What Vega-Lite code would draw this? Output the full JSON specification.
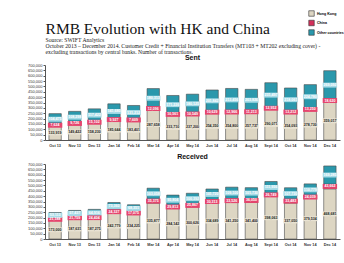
{
  "$schema": "https://vega.github.io/schema/vega-lite/v6.json",
  "background": "white",
  "padding": {"left": 27, "top": 10, "right": 4, "bottom": 2},
  "title": {
    "text": "RMB Evolution with HK and China",
    "subtitle": ["Source: SWIFT Analytics", "October 2013 – December 2014. Customer Credit + Financial Institution Transfers (MT103 + MT202 excluding cover) -", "excluding transactions by central banks. Number of transactions."],
    "anchor": "start",
    "font": "Liberation Serif",
    "fontSize": 15.5,
    "fontWeight": "normal",
    "color": "#111",
    "subtitleFont": "Liberation Serif",
    "subtitleFontSize": 5.7,
    "subtitleColor": "#222",
    "subtitleLineHeight": 6,
    "subtitlePadding": 0,
    "dx": 18,
    "offset": -45
  },
  "datasets": {
    "rmb": [
      {"month": "Oct 13", "flow": "Sent", "region": "Hong Kong", "order": 0, "value": 133919},
      {"month": "Nov 13", "flow": "Sent", "region": "Hong Kong", "order": 0, "value": 149422},
      {"month": "Dec 13", "flow": "Sent", "region": "Hong Kong", "order": 0, "value": 158230},
      {"month": "Jan 14", "flow": "Sent", "region": "Hong Kong", "order": 0, "value": 185644},
      {"month": "Feb 14", "flow": "Sent", "region": "Hong Kong", "order": 0, "value": 183401},
      {"month": "Mar 14", "flow": "Sent", "region": "Hong Kong", "order": 0, "value": 287658},
      {"month": "Apr 14", "flow": "Sent", "region": "Hong Kong", "order": 0, "value": 233710},
      {"month": "May 14", "flow": "Sent", "region": "Hong Kong", "order": 0, "value": 237200},
      {"month": "Jun 14", "flow": "Sent", "region": "Hong Kong", "order": 0, "value": 254350},
      {"month": "Jul 14", "flow": "Sent", "region": "Hong Kong", "order": 0, "value": 254800},
      {"month": "Aug 14", "flow": "Sent", "region": "Hong Kong", "order": 0, "value": 257737},
      {"month": "Sept 14", "flow": "Sent", "region": "Hong Kong", "order": 0, "value": 290071},
      {"month": "Oct 14", "flow": "Sent", "region": "Hong Kong", "order": 0, "value": 254093},
      {"month": "Nov 14", "flow": "Sent", "region": "Hong Kong", "order": 0, "value": 278730},
      {"month": "Dec 14", "flow": "Sent", "region": "Hong Kong", "order": 0, "value": 359017},
      {"month": "Oct 13", "flow": "Sent", "region": "China", "order": 1, "value": 7624},
      {"month": "Nov 13", "flow": "Sent", "region": "China", "order": 1, "value": 9726},
      {"month": "Dec 13", "flow": "Sent", "region": "China", "order": 1, "value": 15102},
      {"month": "Jan 14", "flow": "Sent", "region": "China", "order": 1, "value": 9927},
      {"month": "Feb 14", "flow": "Sent", "region": "China", "order": 1, "value": 7609},
      {"month": "Mar 14", "flow": "Sent", "region": "China", "order": 1, "value": 12096},
      {"month": "Apr 14", "flow": "Sent", "region": "China", "order": 1, "value": 10561},
      {"month": "May 14", "flow": "Sent", "region": "China", "order": 1, "value": 10549},
      {"month": "Jun 14", "flow": "Sent", "region": "China", "order": 1, "value": 10629},
      {"month": "Jul 14", "flow": "Sent", "region": "China", "order": 1, "value": 12966},
      {"month": "Aug 14", "flow": "Sent", "region": "China", "order": 1, "value": 11213},
      {"month": "Sept 14", "flow": "Sent", "region": "China", "order": 1, "value": 12952},
      {"month": "Oct 14", "flow": "Sent", "region": "China", "order": 1, "value": 13212},
      {"month": "Nov 14", "flow": "Sent", "region": "China", "order": 1, "value": 13250},
      {"month": "Dec 14", "flow": "Sent", "region": "China", "order": 1, "value": 18620},
      {"month": "Oct 13", "flow": "Sent", "region": "Other countries", "order": 2, "value": 104475},
      {"month": "Nov 13", "flow": "Sent", "region": "Other countries", "order": 2, "value": 108298},
      {"month": "Dec 13", "flow": "Sent", "region": "Other countries", "order": 2, "value": 117422},
      {"month": "Jan 14", "flow": "Sent", "region": "Other countries", "order": 2, "value": 141680},
      {"month": "Feb 14", "flow": "Sent", "region": "Other countries", "order": 2, "value": 131212},
      {"month": "Mar 14", "flow": "Sent", "region": "Other countries", "order": 2, "value": 180313},
      {"month": "Apr 14", "flow": "Sent", "region": "Other countries", "order": 2, "value": 171226},
      {"month": "May 14", "flow": "Sent", "region": "Other countries", "order": 2, "value": 180125},
      {"month": "Jun 14", "flow": "Sent", "region": "Other countries", "order": 2, "value": 201842},
      {"month": "Jul 14", "flow": "Sent", "region": "Other countries", "order": 2, "value": 213456},
      {"month": "Aug 14", "flow": "Sent", "region": "Other countries", "order": 2, "value": 203826},
      {"month": "Sept 14", "flow": "Sent", "region": "Other countries", "order": 2, "value": 231497},
      {"month": "Oct 14", "flow": "Sent", "region": "Other countries", "order": 2, "value": 218061},
      {"month": "Nov 14", "flow": "Sent", "region": "Other countries", "order": 2, "value": 224780},
      {"month": "Dec 14", "flow": "Sent", "region": "Other countries", "order": 2, "value": 269092},
      {"month": "Oct 13", "flow": "Received", "region": "Hong Kong", "order": 0, "value": 173000},
      {"month": "Nov 13", "flow": "Received", "region": "Hong Kong", "order": 0, "value": 187631},
      {"month": "Dec 13", "flow": "Received", "region": "Hong Kong", "order": 0, "value": 187275},
      {"month": "Jan 14", "flow": "Received", "region": "Hong Kong", "order": 0, "value": 242779},
      {"month": "Feb 14", "flow": "Received", "region": "Hong Kong", "order": 0, "value": 234225},
      {"month": "Mar 14", "flow": "Received", "region": "Hong Kong", "order": 0, "value": 335877},
      {"month": "Apr 14", "flow": "Received", "region": "Hong Kong", "order": 0, "value": 284142},
      {"month": "May 14", "flow": "Received", "region": "Hong Kong", "order": 0, "value": 300626},
      {"month": "Jun 14", "flow": "Received", "region": "Hong Kong", "order": 0, "value": 334689},
      {"month": "Jul 14", "flow": "Received", "region": "Hong Kong", "order": 0, "value": 341250},
      {"month": "Aug 14", "flow": "Received", "region": "Hong Kong", "order": 0, "value": 341400},
      {"month": "Sept 14", "flow": "Received", "region": "Hong Kong", "order": 0, "value": 398063},
      {"month": "Oct 14", "flow": "Received", "region": "Hong Kong", "order": 0, "value": 337050},
      {"month": "Nov 14", "flow": "Received", "region": "Hong Kong", "order": 0, "value": 379534},
      {"month": "Dec 14", "flow": "Received", "region": "Hong Kong", "order": 0, "value": 468681},
      {"month": "Oct 13", "flow": "Received", "region": "China", "order": 1, "value": 21188},
      {"month": "Nov 13", "flow": "Received", "region": "China", "order": 1, "value": 21759},
      {"month": "Dec 13", "flow": "Received", "region": "China", "order": 1, "value": 24404},
      {"month": "Jan 14", "flow": "Received", "region": "China", "order": 1, "value": 24327},
      {"month": "Feb 14", "flow": "Received", "region": "China", "order": 1, "value": 17075},
      {"month": "Mar 14", "flow": "Received", "region": "China", "order": 1, "value": 35375},
      {"month": "Apr 14", "flow": "Received", "region": "China", "order": 1, "value": 29813},
      {"month": "May 14", "flow": "Received", "region": "China", "order": 1, "value": 25867},
      {"month": "Jun 14", "flow": "Received", "region": "China", "order": 1, "value": 30313},
      {"month": "Jul 14", "flow": "Received", "region": "China", "order": 1, "value": 33526},
      {"month": "Aug 14", "flow": "Received", "region": "China", "order": 1, "value": 36050},
      {"month": "Sept 14", "flow": "Received", "region": "China", "order": 1, "value": 26749},
      {"month": "Oct 14", "flow": "Received", "region": "China", "order": 1, "value": 33483},
      {"month": "Nov 14", "flow": "Received", "region": "China", "order": 1, "value": 24039},
      {"month": "Dec 14", "flow": "Received", "region": "China", "order": 1, "value": 43662},
      {"month": "Oct 13", "flow": "Received", "region": "Other countries", "order": 2, "value": 53113},
      {"month": "Nov 13", "flow": "Received", "region": "Other countries", "order": 2, "value": 57437},
      {"month": "Dec 13", "flow": "Received", "region": "Other countries", "order": 2, "value": 64916},
      {"month": "Jan 14", "flow": "Received", "region": "Other countries", "order": 2, "value": 73360},
      {"month": "Feb 14", "flow": "Received", "region": "Other countries", "order": 2, "value": 68351},
      {"month": "Mar 14", "flow": "Received", "region": "Other countries", "order": 2, "value": 103058},
      {"month": "Apr 14", "flow": "Received", "region": "Other countries", "order": 2, "value": 95804},
      {"month": "May 14", "flow": "Received", "region": "Other countries", "order": 2, "value": 100392},
      {"month": "Jun 14", "flow": "Received", "region": "Other countries", "order": 2, "value": 101720},
      {"month": "Jul 14", "flow": "Received", "region": "Other countries", "order": 2, "value": 109100},
      {"month": "Aug 14", "flow": "Received", "region": "Other countries", "order": 2, "value": 101730},
      {"month": "Sept 14", "flow": "Received", "region": "Other countries", "order": 2, "value": 111956},
      {"month": "Oct 14", "flow": "Received", "region": "Other countries", "order": 2, "value": 107730},
      {"month": "Nov 14", "flow": "Received", "region": "Other countries", "order": 2, "value": 110779},
      {"month": "Dec 14", "flow": "Received", "region": "Other countries", "order": 2, "value": 169285}
    ]
  },
  "data": {"name": "rmb"},
  "spacing": 6,
  "vconcat": [
    {
      "width": 295, "height": 75,
      "title": {"text": "Sent"},
      "transform": [
        {"filter": "datum.flow == 'Sent'"},
        {"stack": "value", "groupby": ["month"], "sort": [{"field": "order"}], "as": ["v0", "v1"]},
        {"calculate": "(datum.v0 + datum.v1) / 2", "as": "mid"}
      ],
      "encoding": {
        "x": {"field": "month", "type": "nominal", "sort": null, "scale": {"paddingInner": 0.37, "paddingOuter": 0.2}, "axis": {"title": null}}
      },
      "layer": [
        {
          "mark": {"type": "bar", "stroke": "#4a4a4a", "strokeWidth": 0.6},
          "encoding": {
            "y": {"field": "v0", "type": "quantitative", "scale": {"domain": [0, 700000]}, "axis": {"title": null, "values": [0, 50000, 100000, 150000, 200000, 250000, 300000, 350000, 400000, 450000, 500000, 550000, 600000, 650000, 700000], "format": ",d", "labelOverlap": false, "labelFlush": false}},
            "y2": {"field": "v1"},
            "color": {"field": "region", "type": "nominal", "scale": {"domain": ["Hong Kong", "China", "Other countries"], "range": ["#ddd6c3", "#d3305a", "#2a98ac"]}, "legend": {"title": null, "orient": "none", "legendX": 263, "legendY": -55}}
          }
        },
        {
          "mark": {"type": "point", "filled": true, "opacity": 1, "strokeWidth": 0, "size": 81, "shape": "M-1.6,-0.55H1.6V0.55H-1.6Z"},
          "encoding": {
            "y": {"field": "mid", "type": "quantitative", "axis": {"title": null, "values": [0, 50000, 100000, 150000, 200000, 250000, 300000, 350000, 400000, 450000, 500000, 550000, 600000, 650000, 700000], "format": ",d", "labelOverlap": false, "labelFlush": false}},
            "fill": {"field": "region", "type": "nominal", "scale": {"domain": ["Hong Kong", "China", "Other countries"], "range": ["#e8e2d2", "#e5456e", "#a6dbe7"]}, "legend": null}
          }
        },
        {
          "transform": [{"filter": "datum.region == 'Hong Kong'"}],
          "mark": {"type": "text", "fontSize": 3.6, "fontWeight": "bold", "font": "Liberation Sans", "color": "#222"},
          "encoding": {"y": {"field": "mid", "type": "quantitative", "axis": {"title": null, "values": [0, 50000, 100000, 150000, 200000, 250000, 300000, 350000, 400000, 450000, 500000, 550000, 600000, 650000, 700000], "format": ",d", "labelOverlap": false, "labelFlush": false}}, "text": {"field": "value", "type": "quantitative", "format": ",d"}}
        },
        {
          "transform": [{"filter": "datum.region != 'Hong Kong'"}],
          "mark": {"type": "text", "fontSize": 3.6, "fontWeight": "bold", "font": "Liberation Sans", "color": "white"},
          "encoding": {"y": {"field": "mid", "type": "quantitative", "axis": {"title": null, "values": [0, 50000, 100000, 150000, 200000, 250000, 300000, 350000, 400000, 450000, 500000, 550000, 600000, 650000, 700000], "format": ",d", "labelOverlap": false, "labelFlush": false}}, "text": {"field": "value", "type": "quantitative", "format": ",d"}}
        }
      ]
    },
    {
      "width": 295, "height": 75,
      "title": {"text": "Received"},
      "transform": [
        {"filter": "datum.flow == 'Received'"},
        {"stack": "value", "groupby": ["month"], "sort": [{"field": "order"}], "as": ["v0", "v1"]},
        {"calculate": "(datum.v0 + datum.v1) / 2", "as": "mid"}
      ],
      "encoding": {
        "x": {"field": "month", "type": "nominal", "sort": null, "scale": {"paddingInner": 0.37, "paddingOuter": 0.2}, "axis": {"title": null}}
      },
      "layer": [
        {
          "mark": {"type": "bar", "stroke": "#4a4a4a", "strokeWidth": 0.6},
          "encoding": {
            "y": {"field": "v0", "type": "quantitative", "scale": {"domain": [0, 700000]}, "axis": {"title": null, "values": [0, 50000, 100000, 150000, 200000, 250000, 300000, 350000, 400000, 450000, 500000, 550000, 600000, 650000, 700000], "format": ",d", "labelOverlap": false, "labelFlush": false}},
            "y2": {"field": "v1"},
            "color": {"field": "region", "type": "nominal", "scale": {"domain": ["Hong Kong", "China", "Other countries"], "range": ["#ddd6c3", "#d3305a", "#2a98ac"]}}
          }
        },
        {
          "mark": {"type": "point", "filled": true, "opacity": 1, "strokeWidth": 0, "size": 81, "shape": "M-1.6,-0.55H1.6V0.55H-1.6Z"},
          "encoding": {
            "y": {"field": "mid", "type": "quantitative", "axis": {"title": null, "values": [0, 50000, 100000, 150000, 200000, 250000, 300000, 350000, 400000, 450000, 500000, 550000, 600000, 650000, 700000], "format": ",d", "labelOverlap": false, "labelFlush": false}},
            "fill": {"field": "region", "type": "nominal", "scale": {"domain": ["Hong Kong", "China", "Other countries"], "range": ["#e8e2d2", "#e5456e", "#a6dbe7"]}, "legend": null}
          }
        },
        {
          "transform": [{"filter": "datum.region == 'Hong Kong'"}],
          "mark": {"type": "text", "fontSize": 3.6, "fontWeight": "bold", "font": "Liberation Sans", "color": "#222"},
          "encoding": {"y": {"field": "mid", "type": "quantitative", "axis": {"title": null, "values": [0, 50000, 100000, 150000, 200000, 250000, 300000, 350000, 400000, 450000, 500000, 550000, 600000, 650000, 700000], "format": ",d", "labelOverlap": false, "labelFlush": false}}, "text": {"field": "value", "type": "quantitative", "format": ",d"}}
        },
        {
          "transform": [{"filter": "datum.region != 'Hong Kong'"}],
          "mark": {"type": "text", "fontSize": 3.6, "fontWeight": "bold", "font": "Liberation Sans", "color": "white"},
          "encoding": {"y": {"field": "mid", "type": "quantitative", "axis": {"title": null, "values": [0, 50000, 100000, 150000, 200000, 250000, 300000, 350000, 400000, 450000, 500000, 550000, 600000, 650000, 700000], "format": ",d", "labelOverlap": false, "labelFlush": false}}, "text": {"field": "value", "type": "quantitative", "format": ",d"}}
        }
      ]
    }
  ],
  "config": {
    "view": {"stroke": null},
    "font": "Liberation Sans",
    "title": {"fontSize": 7, "fontWeight": "bold", "offset": 2, "color": "#111"},
    "axisX": {"labelFontSize": 3.8, "labelFontWeight": "bold", "labelAngle": 0, "ticks": false, "domainColor": "#555", "labelColor": "#333", "labelPadding": 3},
    "axisY": {"labelFontSize": 4, "labelColor": "#333", "tickSize": 2, "tickColor": "#555", "domainColor": "#555", "grid": false, "labelPadding": 1},
    "legend": {"labelFontSize": 3.6, "labelFontWeight": "bold", "symbolType": "square", "symbolSize": 30, "symbolStrokeColor": "#333", "symbolStrokeWidth": 0.6, "rowPadding": 0.5, "labelOffset": 2}
  }
}
